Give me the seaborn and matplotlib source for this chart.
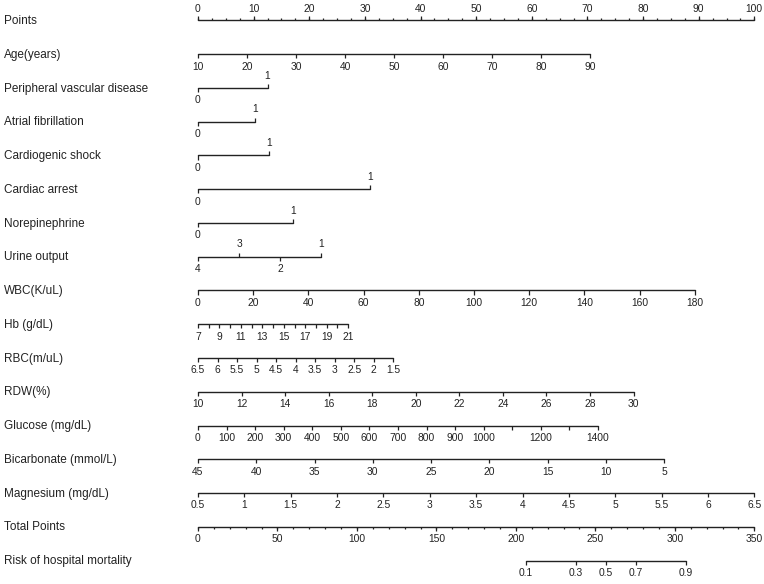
import numpy as np
import pandas as pd
import matplotlib.pyplot as plt
import seaborn as sns

sns.set_theme(style="white")
plt.rcParams['font.family'] = ['Liberation Sans', 'DejaVu Sans']

# ---- data ----
points_labels = [0, 10, 20, 30, 40, 50, 60, 70, 80, 90, 100]

age_vals = [10, 20, 30, 40, 50, 60, 70, 80, 90]
age_pts = (0, 70.5)
pvd_vals = [0, 1]
pvd_pts = (0, 12.5)
af_vals = [0, 1]
af_pts = (0, 10.2)
shock_vals = [0, 1]
shock_pts = (0, 12.7)
arrest_vals = [0, 1]
arrest_pts = (0, 30.9)
norepi_vals = [0, 1]
norepi_pts = (0, 17.1)
urine_vals = [4, 3, 2, 1]
urine_pts = (0, 22.2)
wbc_vals = [0, 20, 40, 60, 80, 100, 120, 140, 160, 180]
wbc_pts = (0, 89.3)
hb_vals = list(range(7, 22))
hb_labels = [7, 9, 11, 13, 15, 17, 19, 21]
hb_pts = (0, 27.0)
rbc_vals = [6.5, 6, 5.5, 5, 4.5, 4, 3.5, 3, 2.5, 2, 1.5]
rbc_pts = (0, 35.1)
rdw_vals = [10, 12, 14, 16, 18, 20, 22, 24, 26, 28, 30]
rdw_pts = (0, 78.3)
glu_vals = [0, 100, 200, 300, 400, 500, 600, 700, 800, 900, 1000, 1100, 1200, 1300, 1400]
glu_labels = [0, 100, 200, 300, 400, 500, 600, 700, 800, 900, 1000, 1200, 1400]
glu_pts = (0, 71.9)
bic_vals = [45, 40, 35, 30, 25, 20, 15, 10, 5]
bic_pts = (0, 83.8)
mg_vals = [0.5, 1, 1.5, 2, 2.5, 3, 3.5, 4, 4.5, 5, 5.5, 6, 6.5]
mg_pts = (0, 100)

total_labels = [0, 50, 100, 150, 200, 250, 300, 350]
risk_labels = [0.1, 0.3, 0.5, 0.7, 0.9]
risk_total = [206.4, 237.5, 256.5, 275.6, 306.8]  # total points where each risk sits

row_names = ["Points", "Age(years)", "Peripheral vascular disease", "Atrial fibrillation",
             "Cardiogenic shock", "Cardiac arrest", "Norepinephrine", "Urine output",
             "WBC(K/uL)", "Hb (g/dL)", "RBC(m/uL)", "RDW(%)", "Glucose (mg/dL)",
             "Bicarbonate (mmol/L)", "Magnesium (mg/dL)", "Total Points",
             "Risk of hospital mortality"]

INK = "#222222"
TICK_FS = 7.4
LAB_FS = 8.5


def to_pts(vals, pts):
    vals = np.asarray(vals, dtype=float)
    v0, v1 = vals[0], vals[-1]
    return pts[0] + (vals - v0) / (v1 - v0) * (pts[1] - pts[0])


def fmt(v):
    return ("%g" % v)


# rows: name, tick values, tick x on the points scale, labelled values, label side per value
rows = []
rows.append(("Age(years)", age_vals, to_pts(age_vals, age_pts), age_vals, None))
rows.append(("Peripheral vascular disease", pvd_vals, to_pts(pvd_vals, pvd_pts), pvd_vals, ["below", "above"]))
rows.append(("Atrial fibrillation", af_vals, to_pts(af_vals, af_pts), af_vals, ["below", "above"]))
rows.append(("Cardiogenic shock", shock_vals, to_pts(shock_vals, shock_pts), shock_vals, ["below", "above"]))
rows.append(("Cardiac arrest", arrest_vals, to_pts(arrest_vals, arrest_pts), arrest_vals, ["below", "above"]))
rows.append(("Norepinephrine", norepi_vals, to_pts(norepi_vals, norepi_pts), norepi_vals, ["below", "above"]))
rows.append(("Urine output", urine_vals, to_pts(urine_vals, urine_pts), urine_vals, ["below", "above", "below", "above"]))
rows.append(("WBC(K/uL)", wbc_vals, to_pts(wbc_vals, wbc_pts), wbc_vals, None))
rows.append(("Hb (g/dL)", hb_vals, to_pts(hb_vals, hb_pts), hb_labels, None))
rows.append(("RBC(m/uL)", rbc_vals, to_pts(rbc_vals, rbc_pts), rbc_vals, None))
rows.append(("RDW(%)", rdw_vals, to_pts(rdw_vals, rdw_pts), rdw_vals, None))
rows.append(("Glucose (mg/dL)", glu_vals, to_pts(glu_vals, glu_pts), glu_labels, None))
rows.append(("Bicarbonate (mmol/L)", bic_vals, to_pts(bic_vals, bic_pts), bic_vals, None))
rows.append(("Magnesium (mg/dL)", mg_vals, to_pts(mg_vals, mg_pts), mg_vals, None))

fig = plt.figure(figsize=(7.64, 5.84), dpi=100)
ax = fig.add_axes([0, 0, 1, 1])
# x: nomogram points (0 at px 198, 100 at px 754), y: row index (33.75 px per row)
ax.set_xlim(-35.59, 101.74)
ax.set_ylim(16.696, -0.607)
ax.axis("off")

TL = 0.12      # tick length in row units
OFF = 0.37     # label offset

# horizontal lines collected into one frame and drawn with seaborn
seg = []
seg.append(("Points", 0, 0))
seg.append(("Points", 100, 0))
for r, (name, vals, xs, labs, sides) in enumerate(rows, start=1):
    seg.append((name, xs.min(), r))
    seg.append((name, xs.max(), r))
tot_x = np.asarray(total_labels, float) / 350 * 100
risk_x = np.asarray(risk_total) / 350 * 100
seg.append(("Total Points", tot_x.min(), 15))
seg.append(("Total Points", tot_x.max(), 15))
seg.append(("Risk", risk_x.min(), 16))
seg.append(("Risk", risk_x.max(), 16))
seg = pd.DataFrame(seg, columns=["var", "x", "row"])
sns.lineplot(data=seg, x="x", y="row", units="var", estimator=None, sort=False,
             color=INK, lw=1.0, ax=ax, legend=False)

# Points axis: ticks up, labels above
minor = np.arange(0, 100.01, 2.5)
ax.vlines(minor, 0, -0.07, color=INK, lw=0.9)
ax.vlines(points_labels, 0, -0.13, color=INK, lw=0.9)
for p in points_labels:
    ax.text(p, -OFF + 0.04, str(p), ha="center", va="center", fontsize=TICK_FS, color=INK)

for r, (name, vals, xs, labs, sides) in enumerate(rows, start=1):
    for i, (v, x) in enumerate(zip(vals, xs)):
        side = sides[i] if sides else "below"
        if side == "above":
            ax.vlines(x, r, r - TL, color=INK, lw=0.9)
        else:
            ax.vlines(x, r, r + TL, color=INK, lw=0.9)
        if v in labs:
            y = r - OFF if side == "above" else r + OFF
            ax.text(x, y, fmt(v), ha="center", va="center", fontsize=TICK_FS, color=INK)

# Total points
tot_minor = np.arange(0, 350.01, 10) / 350 * 100
ax.vlines(tot_minor, 15, 15 + 0.07, color=INK, lw=0.9)
ax.vlines(tot_x, 15, 15 + TL, color=INK, lw=0.9)
for t, x in zip(total_labels, tot_x):
    ax.text(x, 15 + OFF, str(t), ha="center", va="center", fontsize=TICK_FS, color=INK)

# Risk
ax.vlines(risk_x, 16, 16 + TL, color=INK, lw=0.9)
for v, x in zip(risk_labels, risk_x):
    ax.text(x, 16 + OFF, fmt(v), ha="center", va="center", fontsize=TICK_FS, color=INK)

for r, name in enumerate(row_names):
    ax.text(-34.9, r + 0.02, name, ha="left", va="center", fontsize=LAB_FS, color=INK)

fig.savefig("out.png", dpi=100)
